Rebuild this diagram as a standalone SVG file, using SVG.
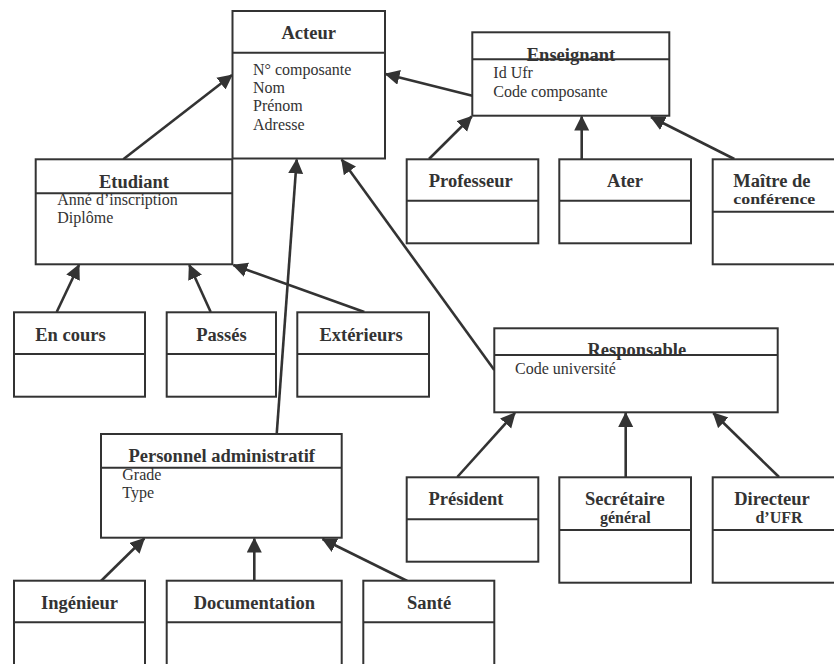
<svg xmlns="http://www.w3.org/2000/svg" width="834" height="664" viewBox="0 0 834 664">
<style>
.box{fill:#fff;stroke:#333;stroke-width:2}
.div{stroke:#333;stroke-width:2}
.t{font-family:"Liberation Serif","Times New Roman",serif;font-weight:bold;font-size:18.5px;fill:#333;text-anchor:middle}
.t2{font-family:"Liberation Serif","Times New Roman",serif;font-weight:bold;font-size:16px;fill:#333;text-anchor:middle}
.a{font-family:"Liberation Serif","Times New Roman",serif;font-size:16px;fill:#333}
.c{stroke:#333;stroke-width:2.6;fill:none;marker-end:url(#arr)}
</style>
<defs>
<marker id="arr" markerUnits="userSpaceOnUse" markerWidth="16" markerHeight="16" refX="14" refY="7.5" orient="auto" viewBox="0 0 16 16">
<path d="M0,0 L15,7.5 L0,15 z" fill="#333"/>
</marker>
</defs>
<rect width="834" height="664" fill="#fff"/>

<g id="connectors">
<line class="c" x1="123.3" y1="159.3" x2="232" y2="75"/>
<line class="c" x1="472.3" y1="95.7" x2="385.5" y2="74"/>
<line class="c" x1="276.7" y1="434" x2="296.7" y2="159.5"/>
<line class="c" x1="494.3" y1="370" x2="341.7" y2="159.5"/>
<line class="c" x1="56.7" y1="312" x2="79" y2="265"/>
<line class="c" x1="210.7" y1="312" x2="189.3" y2="265"/>
<line class="c" x1="364.3" y1="312" x2="233.3" y2="265"/>
<line class="c" x1="429" y1="159" x2="471.7" y2="116.5"/>
<line class="c" x1="581.7" y1="159" x2="581.7" y2="116.5"/>
<line class="c" x1="734.3" y1="159" x2="651" y2="117"/>
<line class="c" x1="457.3" y1="477" x2="515" y2="413"/>
<line class="c" x1="625.7" y1="477" x2="625.7" y2="413"/>
<line class="c" x1="779" y1="477" x2="713.3" y2="413"/>
<line class="c" x1="101" y1="581" x2="144.3" y2="538.5"/>
<line class="c" x1="254.3" y1="581" x2="254.3" y2="538.5"/>
<line class="c" x1="407.3" y1="581" x2="322.5" y2="539"/>
</g>

<g id="acteur">
<rect class="box" x="232.5" y="11" width="152.5" height="147.5"/>
<line class="div" x1="232.5" y1="52.7" x2="385" y2="52.7"/>
<text class="t" x="308.7" y="39">Acteur</text>
<text class="a" x="253" y="75">N° composante</text>
<text class="a" x="253" y="93">Nom</text>
<text class="a" x="253" y="111">Prénom</text>
<text class="a" x="253" y="130">Adresse</text>
</g>

<g id="enseignant">
<rect class="box" x="472.3" y="32.3" width="197" height="83.4"/>
<line class="div" x1="472.3" y1="59.3" x2="669.3" y2="59.3"/>
<text class="t" x="571" y="61">Enseignant</text>
<text class="a" x="493.3" y="78.3">Id Ufr</text>
<text class="a" x="493.3" y="97.3">Code composante</text>
</g>

<g id="etudiant">
<rect class="box" x="35.7" y="159.3" width="196.6" height="105"/>
<line class="div" x1="35.7" y1="193.3" x2="232.3" y2="193.3"/>
<text class="t" x="134" y="187.7">Etudiant</text>
<text class="a" x="57.3" y="205">Anné d’inscription</text>
<text class="a" x="57.3" y="223">Diplôme</text>
</g>

<g id="encours">
<rect class="box" x="14" y="312.3" width="131" height="84.4"/>
<line class="div" x1="14" y1="354" x2="145" y2="354"/>
<text class="t" x="70.5" y="340.7">En cours</text>
</g>
<g id="passes">
<rect class="box" x="166.7" y="312.3" width="109.3" height="84.4"/>
<line class="div" x1="166.7" y1="354" x2="276" y2="354"/>
<text class="t" x="221.5" y="340.7">Passés</text>
</g>
<g id="exterieurs">
<rect class="box" x="297.3" y="312.3" width="131.7" height="84.4"/>
<line class="div" x1="297.3" y1="354" x2="429" y2="354"/>
<text class="t" x="361" y="340.7">Extérieurs</text>
</g>

<g id="professeur">
<rect class="box" x="406.7" y="159.3" width="131.6" height="84"/>
<line class="div" x1="406.7" y1="200.7" x2="538.3" y2="200.7"/>
<text class="t" x="470.7" y="187.3">Professeur</text>
</g>
<g id="ater">
<rect class="box" x="559.3" y="159.3" width="131.7" height="84"/>
<line class="div" x1="559.3" y1="200.7" x2="691" y2="200.7"/>
<text class="t" x="625" y="187.3">Ater</text>
</g>
<g id="maitre">
<rect class="box" x="712.7" y="159.3" width="130" height="105"/>
<line class="div" x1="712.7" y1="211.7" x2="834" y2="211.7"/>
<text class="t" x="733.3" y="187.3" style="text-anchor:start">Maître de</text>
<text class="t2" x="733.3" y="204" style="text-anchor:start;font-size:15px" textLength="82" lengthAdjust="spacingAndGlyphs">conférence</text>
</g>

<g id="responsable">
<rect class="box" x="494.3" y="328.3" width="283.4" height="84"/>
<line class="div" x1="494.3" y1="355" x2="777.7" y2="355"/>
<text class="t" x="636.8" y="356">Responsable</text>
<text class="a" x="515" y="374.3">Code université</text>
</g>

<g id="president">
<rect class="box" x="406.7" y="477.3" width="131.6" height="84.4"/>
<line class="div" x1="406.7" y1="519.3" x2="538.3" y2="519.3"/>
<text class="t" x="466" y="505">Président</text>
</g>
<g id="secretaire">
<rect class="box" x="559.3" y="477.3" width="131.7" height="105.4"/>
<line class="div" x1="559.3" y1="530" x2="691" y2="530"/>
<text class="t" x="624.8" y="505">Secrétaire</text>
<text class="t2" x="625.3" y="523.3">général</text>
</g>
<g id="directeur">
<rect class="box" x="712.7" y="477.3" width="130" height="105.4"/>
<line class="div" x1="712.7" y1="530" x2="834" y2="530"/>
<text class="t" x="772" y="505">Directeur</text>
<text class="t2" x="779" y="523.3">d’UFR</text>
</g>

<g id="personnel">
<rect class="box" x="101" y="434" width="240.7" height="103.7"/>
<line class="div" x1="101" y1="467.7" x2="341.7" y2="467.7"/>
<text class="t" x="221.7" y="461.7">Personnel administratif</text>
<text class="a" x="122.3" y="480">Grade</text>
<text class="a" x="122.3" y="497.7">Type</text>
</g>

<g id="ingenieur">
<rect class="box" x="14" y="580.7" width="131" height="90"/>
<line class="div" x1="14" y1="622.3" x2="145" y2="622.3"/>
<text class="t" x="79.5" y="609.3">Ingénieur</text>
</g>
<g id="documentation">
<rect class="box" x="166.7" y="580.7" width="175" height="90"/>
<line class="div" x1="166.7" y1="622.3" x2="341.7" y2="622.3"/>
<text class="t" x="254.3" y="609.3">Documentation</text>
</g>
<g id="sante">
<rect class="box" x="363.3" y="580.7" width="131" height="90"/>
<line class="div" x1="363.3" y1="622.3" x2="494.3" y2="622.3"/>
<text class="t" x="429" y="609.3">Santé</text>
</g>
</svg>
